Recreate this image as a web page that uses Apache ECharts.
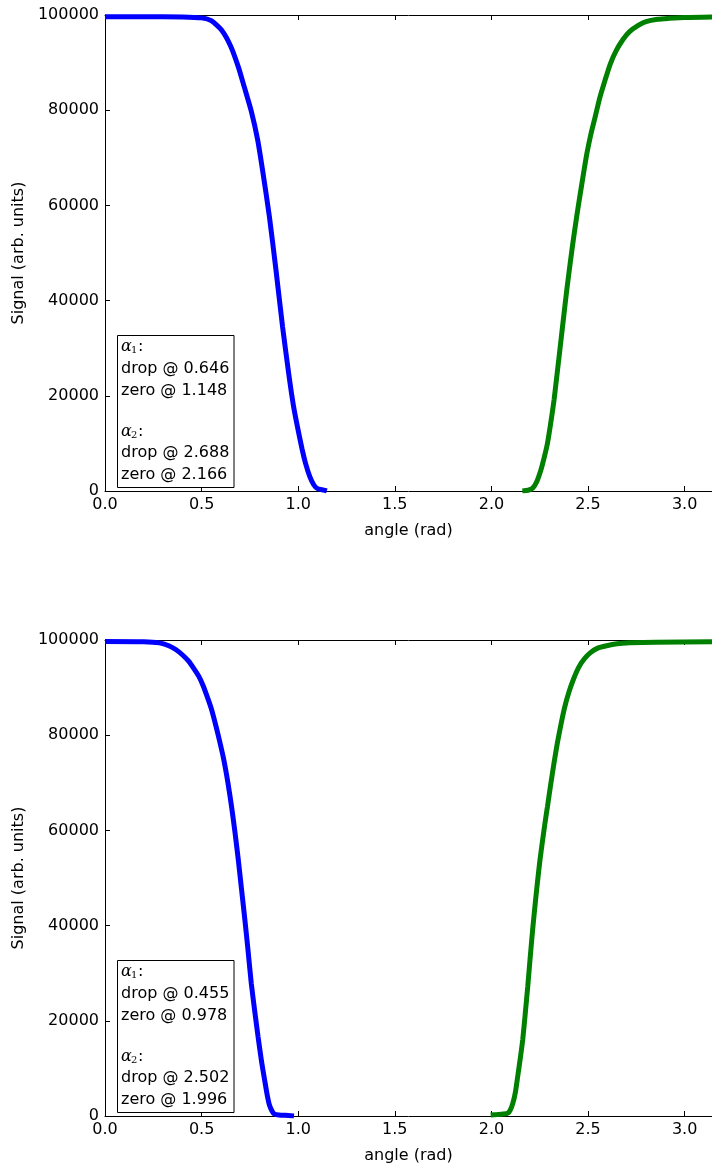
<!DOCTYPE html>
<html>
<head>
<meta charset="utf-8">
<script src="https://cdn.jsdelivr.net/npm/echarts@6/dist/echarts.min.js"></script>
<style>
html,body{margin:0;padding:0;background:#fff;}
#chart{width:712px;height:1167px;}
</style>
</head>
<body>
<div id="chart"></div>
<script>
// ---- data ----
const topBlueX = [0.00,0.20,0.40,0.50,0.55,0.604,0.65,0.690,0.72,0.757,0.79,0.817,0.851,0.885,0.919,0.953,0.975,0.996,1.02,1.038,1.06,1.081,1.10,1.132,1.148];
const topBlueY = [99650,99650,99600,99400,98800,96800,93500,89100,85000,79800,73800,67000,57600,46400,34500,24000,18000,13500,8800,5800,3000,1260,500,200,0];
const topGreenX = [2.16,2.19,2.213,2.235,2.256,2.273,2.290,2.307,2.324,2.341,2.358,2.375,2.392,2.409,2.426,2.443,2.460,2.477,2.494,2.515,2.537,2.56,2.588,2.615,2.647,2.68,2.715,2.76,2.80,2.86,2.92,3.00,3.1416];
const topGreenY = [0,150,560,2000,4400,7000,10000,14300,19100,25000,31000,37000,42900,48300,53400,58100,62500,66800,70900,75000,78600,82500,86300,89700,92600,94800,96500,97800,98600,99100,99300,99500,99600];
const botBlueX = [0.00,0.20,0.281,0.33,0.366,0.40,0.434,0.46,0.485,0.508,0.528,0.55,0.570,0.59,0.613,0.635,0.655,0.673,0.690,0.707,0.724,0.741,0.757,0.775,0.792,0.81,0.826,0.84,0.851,0.865,0.877,0.90,0.95,0.978];
const botBlueY = [99700,99650,99400,98800,98000,96900,95500,94000,92400,90400,88200,85600,82600,79300,75200,70300,65000,59500,53800,47500,41200,34500,27900,22000,16700,11500,7600,4300,2300,1000,400,200,100,0];
const botGreenX = [1.996,2.03,2.06,2.085,2.098,2.111,2.124,2.136,2.149,2.162,2.175,2.188,2.20,2.213,2.226,2.239,2.251,2.264,2.277,2.290,2.307,2.324,2.341,2.358,2.378,2.400,2.425,2.451,2.48,2.511,2.55,2.596,2.65,2.715,2.85,3.1416];
const botGreenY = [200,300,400,600,1300,2700,5000,8300,12000,16000,21500,27200,33000,39000,44400,49400,53700,57700,61500,65000,69700,74200,78300,81900,85700,88900,91800,94200,96000,97300,98300,98800,99200,99400,99550,99650];

const xTicks = [0.0,0.5,1.0,1.5,2.0,2.5,3.0];
const yTicks = [0,20000,40000,60000,80000,100000];
const topNotes = ['drop @ 0.646','zero @ 1.148','drop @ 2.688','zero @ 2.166'];
const botNotes = ['drop @ 0.455','zero @ 0.978','drop @ 2.502','zero @ 1.996'];

const zip = (xs, ys) => xs.map((x, i) => [x, ys[i]]);

const FONT = 'DejaVu Sans';
const AX = '#000';

const grids = [
  {left:105, top:15, width:615, height:476},
  {left:105, top:640, width:615, height:476}
];

function xAxisBottom(gi){
  return {
    type:'value', gridIndex:gi, position:'bottom', min:0, max:Math.PI, interval:0.5,
    name:'angle (rad)', nameLocation:'middle', nameGap:32,
    nameTextStyle:{fontFamily:FONT, fontSize:16, color:AX},
    axisLine:{show:true, onZero:false, lineStyle:{color:AX, width:1}},
    axisTick:{show:true, inside:true, length:5, lineStyle:{color:AX}},
    axisLabel:{show:true, fontFamily:FONT, fontSize:16, color:AX, margin:6, showMaxLabel:false,
      formatter:v => (xTicks.some(t => Math.abs(t - v) < 1e-9)) ? v.toFixed(1) : ''},
    splitLine:{show:false}
  };
}
function xAxisTop(gi){
  return {
    type:'value', gridIndex:gi, position:'top', min:0, max:Math.PI, interval:0.5,
    axisLine:{show:true, onZero:false, lineStyle:{color:AX, width:1}},
    axisTick:{show:true, inside:true, length:5, lineStyle:{color:AX}},
    axisLabel:{show:false},
    splitLine:{show:false}
  };
}
function yAxisLeft(gi){
  return {
    type:'value', gridIndex:gi, position:'left', min:yTicks[0], max:yTicks[yTicks.length-1], interval:yTicks[1]-yTicks[0],
    name:'Signal (arb. units)', nameLocation:'middle', nameGap:71, nameRotate:90,
    nameTextStyle:{fontFamily:FONT, fontSize:16, color:AX},
    axisLine:{show:true, onZero:false, lineStyle:{color:AX, width:1}},
    axisTick:{show:true, inside:true, length:5, lineStyle:{color:AX}},
    axisLabel:{show:true, fontFamily:FONT, fontSize:16, color:AX, margin:6, formatter:v => String(Math.round(v))},
    splitLine:{show:false}
  };
}

function lineSeries(xi, yi, data, color){
  return {
    type:'line', xAxisIndex:xi, yAxisIndex:yi, data:data, showSymbol:false, symbol:'none',
    smooth:0.2, lineStyle:{color:color, width:5}, itemStyle:{color:color},
    animation:false, z:3
  };
}

function noteBox(y0, notes){
  const lines = [];
  const tx = 121;
  const sty = {fontFamily:FONT, fontSize:16, fill:'#000', verticalAlign:'middle'};
  const alpha = (yc, sub) => [
    {type:'text', style:Object.assign({}, sty, {x:tx, y:yc, text:'α', fontFamily:'DejaVu Serif', fontStyle:'italic'}), z:11},
    {type:'text', style:Object.assign({}, sty, {x:tx+10, y:yc+4, text:sub, fontSize:10, fontFamily:'DejaVu Serif'}), z:11},
    {type:'text', style:Object.assign({}, sty, {x:tx+17, y:yc, text:':'}), z:11}
  ];
  lines.push(...alpha(y0+11.7, '1'));
  lines.push({type:'text', style:Object.assign({}, sty, {x:tx, y:y0+34, text:notes[0]}), z:11});
  lines.push({type:'text', style:Object.assign({}, sty, {x:tx, y:y0+55.7, text:notes[1]}), z:11});
  lines.push(...alpha(y0+96.7, '2'));
  lines.push({type:'text', style:Object.assign({}, sty, {x:tx, y:y0+118, text:notes[2]}), z:11});
  lines.push({type:'text', style:Object.assign({}, sty, {x:tx, y:y0+140, text:notes[3]}), z:11});
  return [
    {type:'rect', shape:{x:117.5, y:y0+0.5, width:116.5, height:152}, style:{fill:'#fff', stroke:'#000', lineWidth:1}, z:10},
    ...lines
  ];
}

const chart = echarts.init(document.getElementById('chart'), null, {renderer:'canvas'});
chart.setOption({
  animation:false,
  backgroundColor:'#fff',
  grid:grids,
  xAxis:[xAxisBottom(0), xAxisTop(0), xAxisBottom(1), xAxisTop(1)],
  yAxis:[yAxisLeft(0), yAxisLeft(1)],
  series:[
    lineSeries(0,0,zip(topBlueX, topBlueY),'#0000ff'),
    lineSeries(0,0,zip(topGreenX, topGreenY),'#008000'),
    lineSeries(2,1,zip(botBlueX, botBlueY),'#0000ff'),
    lineSeries(2,1,zip(botGreenX, botGreenY),'#008000')
  ],
  graphic:[...noteBox(335, topNotes), ...noteBox(960, botNotes)]
});
</script>
</body>
</html>
